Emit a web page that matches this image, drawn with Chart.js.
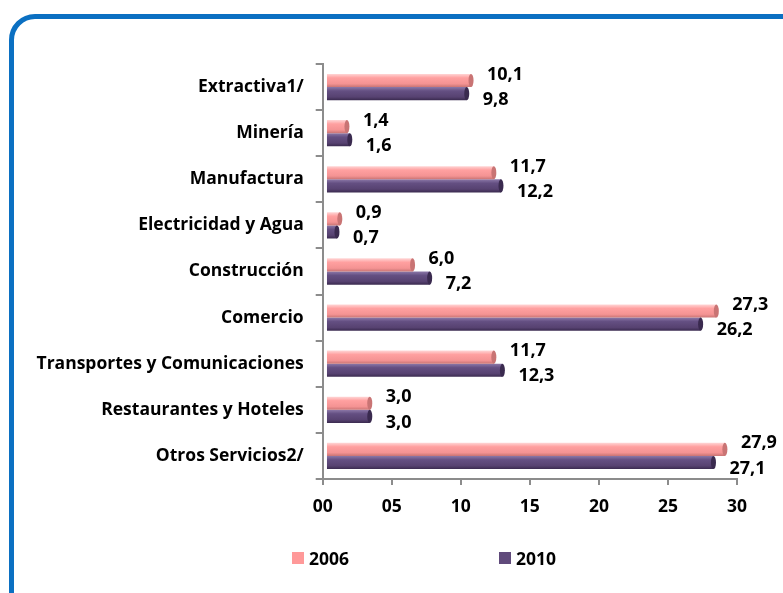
<!DOCTYPE html>
<html>
<head>
<meta charset="utf-8">
<script src="https://cdn.jsdelivr.net/npm/chart.js@4"></script>
<style>
  html, body { margin: 0; padding: 0; background: #fff; overflow: hidden; }
  #frame { position: absolute; left: 9px; top: 14px; width: 820px; height: 620px;
           border: 5px solid #0B70C2; border-radius: 26px; box-sizing: border-box; }
  #wrap { position: absolute; left: 0; top: 0; width: 783px; height: 593px; }
  #legend { position: absolute; left: 292px; top: 546px; display: flex;
            font: bold 17.5px "Open Sans", sans-serif; color: #000; }
  #legend .item { display: flex; align-items: center; width: 207px; }
  #legend .box { width: 12px; height: 12px; margin-right: 5px; }
</style>
</head>
<body>
<div id="frame"></div>
<div id="wrap"><canvas id="chart"></canvas></div>
<div id="legend"></div>
<script>
const categories = ['Extractiva1/', 'Minería', 'Manufactura', 'Electricidad y Agua', 'Construcción',
    'Comercio', 'Transportes y Comunicaciones', 'Restaurantes y Hoteles', 'Otros Servicios2/'];
const values2006 = [10.1, 1.4, 11.7, 0.9, 6.0, 27.3, 11.7, 3.0, 27.9];
const values2010 = [9.8, 1.6, 12.2, 0.7, 7.2, 26.2, 12.3, 3.0, 27.1];
const seriesNames = ['2006', '2010'];
const tickLabels = ['00', '05', '10', '15', '20', '25', '30'];

const legendColors = ['#FF9999', '#604A7B'];
// light top, body, lower body, dark edge
const shades = [
    ['#FFD6D6', '#FFA0A0', '#F49393', '#C97474'],
    ['#8C78A8', '#644F82', '#574271', '#3A2A4F']
];
const CAT_PCT = 0.57;
const FONT = '"Open Sans", sans-serif';

function cylinder(c) {
    const s = shades[c.datasetIndex];
    const chart = c.chart;
    if (c.type !== 'data' || !chart.chartArea || !chart.scales.y) return s[1];
    const y = chart.scales.y;
    const center = y.getPixelForValue(c.dataIndex);
    const h = y.height / categories.length * CAT_PCT / 2;
    const top = c.datasetIndex === 0 ? center - h : center;
    const g = chart.ctx.createLinearGradient(0, top, 0, top + h);
    g.addColorStop(0, s[0]);
    g.addColorStop(0.3, s[1]);
    g.addColorStop(0.75, s[2]);
    g.addColorStop(1, s[3]);
    return g;
}

const barDecor = {
    id: 'barDecor',
    afterDatasetsDraw(chart) {
        const ctx = chart.ctx;
        ctx.save();
        chart.data.datasets.forEach((ds, di) => {
            chart.getDatasetMeta(di).data.forEach((el, i) => {
                // rounded end cap
                ctx.beginPath();
                ctx.ellipse(el.x, el.y, 2.5, el.height / 2, 0, 0, Math.PI * 2);
                ctx.fillStyle = shades[di][3];
                ctx.fill();
                // value label
                ctx.font = 'bold 18px ' + FONT;
                ctx.fillStyle = '#000';
                ctx.textAlign = 'left';
                ctx.textBaseline = 'middle';
                const txt = ds.data[i].toFixed(1).replace('.', ',');
                ctx.fillText(txt, el.x + 16, el.y + (di === 0 ? -6 : 6));
            });
        });
        ctx.restore();
    }
};

new Chart(document.getElementById('chart'), {
    type: 'bar',
    data: {
        labels: categories,
        datasets: [
            { label: seriesNames[0], data: values2006, backgroundColor: cylinder, xAxisID: 'xBars' },
            { label: seriesNames[1], data: values2010, backgroundColor: cylinder, xAxisID: 'xBars' }
        ]
    },
    options: {
        indexAxis: 'y',
        responsive: true,
        maintainAspectRatio: false,
        animation: false,
        barPercentage: 1,
        categoryPercentage: CAT_PCT,
        layout: { padding: { left: 0, top: 64, right: 46, bottom: 63 } },
        plugins: { legend: { display: false }, tooltip: { enabled: false } },
        scales: {
            x: {
                type: 'linear',
                position: 'bottom',
                min: 0, max: 30,
                ticks: {
                    stepSize: 5,
                    callback: (v, i) => tickLabels[i],
                    font: { family: FONT, size: 17.5, weight: 'bold' },
                    color: '#000',
                    padding: 12
                },
                grid: { drawOnChartArea: false, tickLength: 6, color: '#8C8C8C', lineWidth: 2 },
                border: { color: '#8C8C8C', width: 2 }
            },
            // bars sit on the back wall of the 3D plot, slightly offset from the front axis
            xBars: {
                type: 'linear',
                display: false,
                min: -0.3, max: 28.75
            },
            y: {
                ticks: {
                    font: { family: FONT, size: 17.5, weight: 'bold' },
                    color: '#000',
                    padding: 12
                },
                grid: { drawOnChartArea: false, tickLength: 7, color: '#8C8C8C', lineWidth: 2 },
                border: { color: '#8C8C8C', width: 2 },
                afterFit: scale => { scale.width = 322.7; }
            }
        }
    },
    plugins: [barDecor]
});

const legend = document.getElementById('legend');
seriesNames.forEach((name, i) => {
    const item = document.createElement('div');
    item.className = 'item';
    const box = document.createElement('span');
    box.className = 'box';
    box.style.background = legendColors[i];
    item.appendChild(box);
    item.appendChild(document.createTextNode(name));
    legend.appendChild(item);
});
</script>
</body>
</html>
